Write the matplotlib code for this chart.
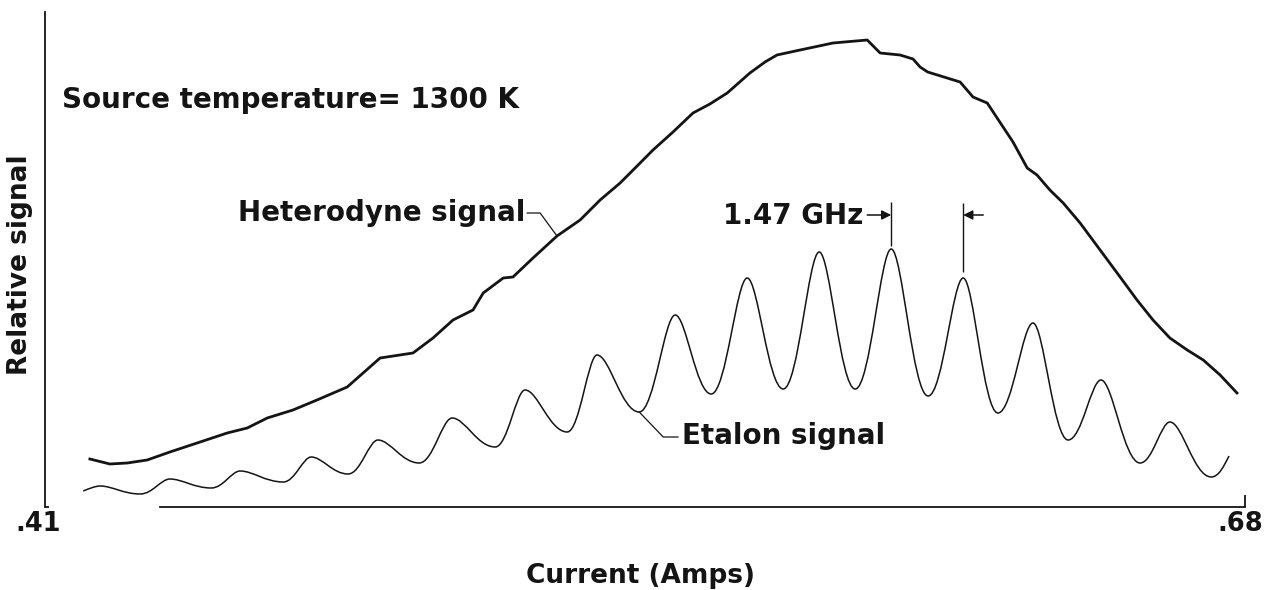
import matplotlib
matplotlib.use("Agg")
import matplotlib.pyplot as plt
from matplotlib.path import Path
from matplotlib.patches import PathPatch

plt.rcParams['font.family'] = ['DejaVu Sans']
plt.rcParams['font.weight'] = 'bold'

INK = '#141414'

# ===== data: current (A) vs relative signal
het_current = [0.4201, 0.4246, 0.4285, 0.4330, 0.4381, 0.4449, 0.4510, 0.4555,
               0.4600, 0.4658, 0.4712, 0.4780, 0.4854, 0.4928, 0.4973, 0.5018,
               0.5063, 0.5086, 0.5131, 0.5153, 0.5198, 0.5252, 0.5304, 0.5349,
               0.5394, 0.5430, 0.5468, 0.5513, 0.5558, 0.5596, 0.5635, 0.5686,
               0.5720, 0.5747, 0.5799, 0.5873, 0.5950, 0.5979, 0.6024, 0.6053,
               0.6069, 0.6086, 0.6159, 0.6188, 0.6220, 0.6278, 0.6310, 0.6332,
               0.6361, 0.6391, 0.6429, 0.6474, 0.6519, 0.6557, 0.6593, 0.6631,
               0.6670, 0.6706, 0.6744, 0.6782]
het_signal = [9.6, 8.6, 8.8, 9.4, 11.0, 13.0, 14.8, 15.8,
              17.8, 19.4, 21.4, 24.0, 29.8, 30.8, 33.8, 37.4,
              39.4, 42.8, 45.8, 46.0, 49.8, 54.2, 57.4, 61.4,
              64.8, 68.0, 71.4, 75.0, 78.8, 80.6, 82.8, 86.8,
              89.0, 90.4, 91.4, 92.8, 93.4, 90.8, 90.4, 89.6,
              88.0, 87.0, 85.0, 82.0, 80.8, 73.0, 67.8, 66.4,
              63.4, 60.8, 56.8, 51.4, 46.0, 41.4, 37.4, 33.8,
              31.4, 29.4, 26.4, 22.8]

# etalon trace: turning points (start, peaks/troughs alternating, end)
etalon_current = [0.4186, 0.4224, 0.4314, 0.4381, 0.4474, 0.4539, 0.4636, 0.4699,
                  0.4782, 0.4849, 0.4942, 0.5016, 0.5113, 0.5180, 0.5275, 0.5342,
                  0.5437, 0.5518, 0.5599, 0.5680, 0.5761, 0.5842, 0.5923, 0.6004,
                  0.6087, 0.6166, 0.6244, 0.6323, 0.6402, 0.6476, 0.6564, 0.6631,
                  0.6724, 0.6764]
etalon_signal = [3.2, 4.2, 2.6, 5.6, 3.8, 7.2, 5.0, 10.0,
                 6.6, 13.4, 8.8, 17.8, 12.0, 23.4, 15.0, 30.4,
                 19.0, 38.4, 22.6, 45.8, 23.6, 51.0, 23.6, 51.6,
                 22.2, 45.8, 18.8, 36.8, 13.4, 25.4, 8.8, 17.0,
                 6.0, 10.2]

x_ticks = [0.41, 0.68]
x_ticklabels = ['.41', '.68']
signal_top = 99.0
axis_start = 0.4359
fsr_label = '1.47 GHz'
temp_label = 'Source temperature= 1300 K'

W, H = 1277, 590


def fpos(px, py):
    return px / W, 1 - py / H


fig = plt.figure(figsize=(W / 100, H / 100), dpi=100)
ax = fig.add_axes([0, 0, 1, 1])
ax.set_xlim(0.399875, 0.6872)
ax.set_ylim(-16.6, 101.4)
ax.set_xticks([])
ax.set_yticks([])
for side in ['top', 'right']:
    ax.spines[side].set_visible(False)
ax.spines['left'].set_position(('data', x_ticks[0]))
ax.spines['left'].set_bounds(0, signal_top)
ax.spines['bottom'].set_position(('data', 0))
ax.spines['bottom'].set_bounds(axis_start, x_ticks[1])
for side in ['left', 'bottom']:
    ax.spines[side].set_color(INK)
    ax.spines[side].set_linewidth(1.3)
ax.vlines(x_ticks[1], 0, 2.4, color=INK, lw=1.3)
ax.hlines(0, x_ticks[0], x_ticks[0] + 0.0008, color=INK, lw=1.3)

# heterodyne
ax.plot(het_current, het_signal, color=INK, lw=2.0, solid_joinstyle='round')

# etalon: smooth segments between turning points (flat tangent at extrema)
verts = [(etalon_current[0], etalon_signal[0])]
codes = [Path.MOVETO]
n = len(etalon_current)
for i in range(n - 1):
    x0, y0 = etalon_current[i], etalon_signal[i]
    x1, y1 = etalon_current[i + 1], etalon_signal[i + 1]
    dx = x1 - x0
    k0 = 0.30 if y0 > y1 else 0.42
    k1 = 0.30 if y1 > y0 else 0.42
    c1 = (x0 + k0 * dx, y0)
    c2 = (x1 - k1 * dx, y1)
    if i == 0:
        c1 = (x0 + 0.3 * dx, y0 + 0.4 * (y1 - y0))
    if i == n - 2:
        c2 = (x1 - 0.3 * dx, y1 - 0.5 * (y1 - y0))
    verts += [c1, c2, (x1, y1)]
    codes += [Path.CURVE4] * 3
ax.add_patch(PathPatch(Path(verts, codes), fill=False, edgecolor=INK, lw=1.1))

# labels
fs = 20
fig.text(*fpos(62, 100), temp_label, fontsize=fs, ha='left', va='center', color=INK)
fig.text(*fpos(525, 213), 'Heterodyne signal', fontsize=fs, ha='right', va='center', color=INK)
fig.text(*fpos(682, 436), 'Etalon signal', fontsize=fs, ha='left', va='center', color=INK)
fig.text(*fpos(863, 216), fsr_label, fontsize=fs, ha='right', va='center', color=INK)
fig.text(*fpos(20, 265), 'Relative signal', fontsize=19, rotation=90, ha='center', va='center', color=INK)
fig.text(*fpos(640, 576), 'Current (Amps)', fontsize=19, ha='center', va='center', color=INK)
fig.text(*fpos(38, 524), x_ticklabels[0], fontsize=18.5, ha='center', va='center', color=INK)
fig.text(*fpos(1240, 524), x_ticklabels[1], fontsize=18.5, ha='center', va='center', color=INK)

# leader lines
hx, hy = het_current[21], het_signal[21]
ax.plot([hx - 0.0067, hx - 0.0038, hx], [58.8, 58.8, hy], color=INK, lw=0.9)
ex, ey = etalon_current[16], etalon_signal[16]
ax.plot([ex, ex + 0.0054, ex + 0.0087], [ey, 14.0, 14.0], color=INK, lw=0.9)

# free spectral range marker
p1x, p1y = etalon_current[23], etalon_signal[23]
p2x, p2y = etalon_current[25], etalon_signal[25]
ax.vlines(p1x, p1y + 0.6, 61.0, color=INK, lw=1.0)
ax.vlines(p2x, p2y + 1.2, 60.8, color=INK, lw=1.0)
arrow = dict(arrowstyle='-|>', lw=1.1, color=INK, mutation_scale=14, shrinkA=0, shrinkB=0)
ax.annotate('', xy=(p1x, 58.4), xytext=(p1x - 0.0054, 58.4), arrowprops=arrow)
ax.annotate('', xy=(p2x, 58.4), xytext=(p2x + 0.0045, 58.4), arrowprops=arrow)

fig.savefig('out.png', dpi=100, facecolor='white')
